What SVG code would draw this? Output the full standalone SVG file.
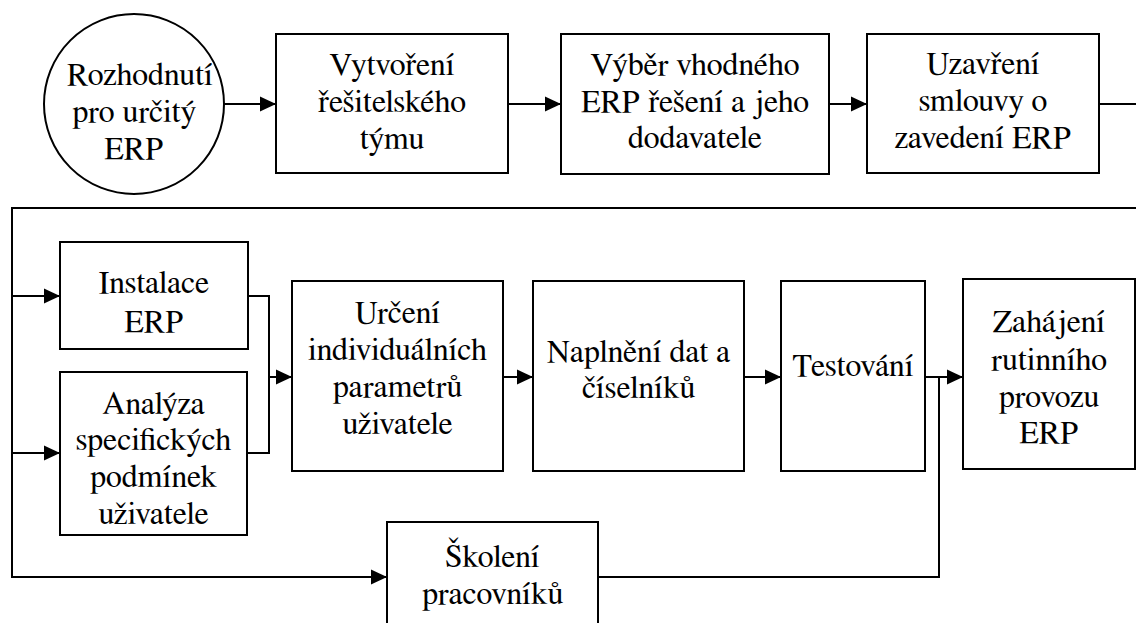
<svg xmlns="http://www.w3.org/2000/svg" width="1136" height="623" viewBox="0 0 1136 623">
<style>
.box{fill:#fff;stroke:#000;stroke-width:2}
.ln{fill:none;stroke:#000;stroke-width:2}
.t{font-family:FreeSerif,'Liberation Serif','Times New Roman','DejaVu Serif',serif;font-size:32px;fill:#000;text-anchor:middle}
</style>
<defs>
<marker id="ah" markerUnits="userSpaceOnUse" markerWidth="16" markerHeight="16" refX="16" refY="7.5" orient="auto" viewBox="0 0 16 15">
<path d="M0,0 L16,7.5 L0,15 z" fill="#000"/>
</marker>
</defs>
<rect width="1136" height="623" fill="#fff"/>
<g id="connectors">
<line class="ln" x1="224" y1="104" x2="276" y2="104" marker-end="url(#ah)"/>
<line class="ln" x1="508" y1="104" x2="561" y2="104" marker-end="url(#ah)"/>
<line class="ln" x1="829" y1="104" x2="867" y2="104" marker-end="url(#ah)"/>
<line class="ln" x1="1099" y1="104" x2="1136" y2="104"/>
<polyline class="ln" points="1136,208 12,208 12,577"/>
<line class="ln" x1="12" y1="296" x2="60" y2="296" marker-end="url(#ah)"/>
<line class="ln" x1="12" y1="453" x2="60" y2="453" marker-end="url(#ah)"/>
<line class="ln" x1="11" y1="577" x2="387" y2="577" marker-end="url(#ah)"/>
<polyline class="ln" points="248,296 269,296 269,453 247,453"/>
<line class="ln" x1="269" y1="377" x2="292" y2="377" marker-end="url(#ah)"/>
<line class="ln" x1="503" y1="377" x2="533" y2="377" marker-end="url(#ah)"/>
<line class="ln" x1="744" y1="377" x2="781" y2="377" marker-end="url(#ah)"/>
<line class="ln" x1="925" y1="377" x2="963" y2="377" marker-end="url(#ah)"/>
<polyline class="ln" points="598,577 939,577 939,377"/>
</g>
<g id="n1">
<circle class="box" cx="134" cy="104" r="90"/>
<text class="t" x="140" y="85">Rozhodnutí</text>
<text class="t" x="134" y="122">pro určitý</text>
<text class="t" x="134" y="159">ERP</text>
</g>
<g id="n2">
<rect class="box" x="276" y="34" width="232" height="139"/>
<text class="t" x="392" y="75">Vytvoření</text>
<text class="t" x="392" y="112">řešitelského</text>
<text class="t" x="392" y="149">týmu</text>
</g>
<g id="n3">
<rect class="box" x="561" y="34" width="268" height="140"/>
<text class="t" x="695" y="75">Výběr vhodného</text>
<text class="t" x="695" y="112">ERP řešení a jeho</text>
<text class="t" x="695" y="148">dodavatele</text>
</g>
<g id="n4">
<rect class="box" x="867" y="34" width="232" height="139"/>
<text class="t" x="983" y="74">Uzavření</text>
<text class="t" x="983" y="111">smlouvy o</text>
<text class="t" x="983" y="148">zavedení ERP</text>
</g>
<g id="n5">
<rect class="box" x="60" y="242" width="188" height="107"/>
<text class="t" x="154" y="293">Instalace</text>
<text class="t" x="154" y="332">ERP</text>
</g>
<g id="n6">
<rect class="box" x="60" y="372" width="187" height="163"/>
<text class="t" x="153.5" y="414">Analýza</text>
<text class="t" x="153.5" y="450">specifických</text>
<text class="t" x="153.5" y="487">podmínek</text>
<text class="t" x="153.5" y="524">uživatele</text>
</g>
<g id="n7">
<rect class="box" x="292" y="281" width="211" height="190"/>
<text class="t" x="397.5" y="323">Určení</text>
<text class="t" x="397.5" y="360">individuálních</text>
<text class="t" x="397.5" y="397">parametrů</text>
<text class="t" x="397.5" y="434">uživatele</text>
</g>
<g id="n8">
<rect class="box" x="533" y="281" width="211" height="190"/>
<text class="t" x="638.5" y="362">Naplnění dat a</text>
<text class="t" x="638.5" y="398">číselníků</text>
</g>
<g id="n9">
<rect class="box" x="781" y="281" width="144" height="190"/>
<text class="t" x="853" y="376">Testování</text>
</g>
<g id="n10">
<rect class="box" x="963" y="279" width="172" height="190"/>
<text class="t" x="1049" y="332">Zahájení</text>
<text class="t" x="1049" y="370">rutinního</text>
<text class="t" x="1049" y="407">provozu</text>
<text class="t" x="1049" y="443">ERP</text>
</g>
<g id="n11">
<rect class="box" x="387" y="522" width="211" height="120"/>
<text class="t" x="492.5" y="567">Školení</text>
<text class="t" x="492.5" y="604">pracovníků</text>
</g>
</svg>
